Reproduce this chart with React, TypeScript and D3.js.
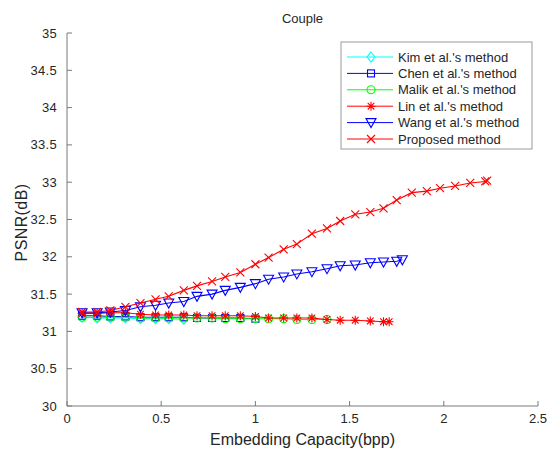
import React from "react";
import * as d3 from "d3";

// x positions (bpp) shared by most series
const xSteps = [0.08, 0.16, 0.23, 0.31, 0.39, 0.47, 0.54, 0.62, 0.69, 0.77, 0.84, 0.92, 1.0, 1.07, 1.15, 1.22, 1.3, 1.38, 1.45, 1.53, 1.61, 1.68, 1.75, 1.83, 1.91, 1.98, 2.06, 2.14];

const kimX = xSteps.slice(0, 8);
const kimY = [31.19, 31.18, 31.18, 31.18, 31.17, 31.17, 31.17, 31.16];

const chenX = xSteps.slice(0, 13);
const chenY = [31.21, 31.21, 31.2, 31.2, 31.19, 31.19, 31.19, 31.19, 31.18, 31.18, 31.18, 31.18, 31.17];

const malikX = xSteps.slice(0, 18);
const malikY = [31.19, 31.19, 31.19, 31.19, 31.18, 31.18, 31.18, 31.18, 31.18, 31.18, 31.17, 31.17, 31.17, 31.17, 31.17, 31.16, 31.16, 31.16];

const linX = [...xSteps.slice(0, 22), 1.71];
const linY = [31.24, 31.24, 31.25, 31.25, 31.23, 31.22, 31.22, 31.22, 31.21, 31.21, 31.21, 31.21, 31.2, 31.18, 31.18, 31.18, 31.18, 31.16, 31.15, 31.15, 31.14, 31.13, 31.13];

const wangX = [...xSteps.slice(0, 23), 1.78];
const wangY = [31.25, 31.25, 31.26, 31.28, 31.33, 31.35, 31.38, 31.4, 31.47, 31.5, 31.55, 31.59, 31.64, 31.7, 31.73, 31.77, 31.8, 31.84, 31.88, 31.89, 31.92, 31.93, 31.94, 31.96];

const propX = [...xSteps, 2.22, 2.23];
const propY = [31.26, 31.26, 31.28, 31.33, 31.38, 31.43, 31.47, 31.55, 31.61, 31.67, 31.73, 31.79, 31.9, 31.99, 32.1, 32.17, 32.31, 32.38, 32.48, 32.57, 32.6, 32.65, 32.76, 32.86, 32.88, 32.92, 32.95, 32.99, 33.01, 33.02];

const xTicks = [0, 0.5, 1, 1.5, 2, 2.5];
const yTicks = [30, 30.5, 31, 31.5, 32, 32.5, 33, 33.5, 34, 34.5, 35];

const series = [
  { name: "Kim et al.'s method", xs: kimX, ys: kimY, color: "#00ffff", marker: "diamond" },
  { name: "Chen et al.'s method", xs: chenX, ys: chenY, color: "#0000ff", marker: "square" },
  { name: "Malik et al.'s method", xs: malikX, ys: malikY, color: "#00ff00", marker: "circle" },
  { name: "Lin et al.'s method", xs: linX, ys: linY, color: "#ff0000", marker: "star" },
  { name: "Wang et al.'s method", xs: wangX, ys: wangY, color: "#0000ff", marker: "tri" },
  { name: "Proposed method", xs: propX, ys: propY, color: "#ff0000", marker: "x" },
];

const W = 558, H = 452;
const left = 67, right = 538, top = 33, bottom = 406;
const font = "'Liberation Sans', Arial, sans-serif";

const Marker = ({ type, x, y, color }) => {
  const p = { fill: "none", stroke: color, strokeWidth: 1.1 };
  switch (type) {
    case "diamond":
      return <path d={`M${x},${y - 5}L${x + 4},${y}L${x},${y + 5}L${x - 4},${y}Z`} {...p} />;
    case "square":
      return <rect x={x - 3.5} y={y - 3.5} width={7} height={7} {...p} />;
    case "circle":
      return <circle cx={x} cy={y} r={4} {...p} />;
    case "star":
      return <path d={`M${x - 4.5},${y}H${x + 4.5}M${x},${y - 4.5}V${y + 4.5}M${x - 3.3},${y - 3.3}L${x + 3.3},${y + 3.3}M${x - 3.3},${y + 3.3}L${x + 3.3},${y - 3.3}`} {...p} />;
    case "tri":
      return <path d={`M${x - 5},${y - 4}H${x + 5}L${x},${y + 5}Z`} {...p} />;
    default:
      return <path d={`M${x - 4},${y - 4}L${x + 4},${y + 4}M${x - 4},${y + 4}L${x + 4},${y - 4}`} {...p} />;
  }
};

export default function App() {
  const x = d3.scaleLinear().domain([0, 2.5]).range([left, right]);
  const y = d3.scaleLinear().domain([30, 35]).range([bottom, top]);
  const line = d3.line<number[]>().x(d => x(d[0])).y(d => y(d[1]));

  const axisColor = "#7a7a7a";
  const textColor = "#262626";

  const legX = 341, legY = 42, legW = 191, legH = 107, rowH = 16.4;

  return (
    <svg width={W} height={H} style={{ position: "absolute", left: 0, top: 0, background: "#fff" }} fontFamily={font}>
      <rect width={W} height={H} fill="#fff" />
      <text x={(left + right) / 2} y={23} textAnchor="middle" fontSize={13} fill={textColor}>Couple</text>

      {/* axes */}
      <line x1={left} x2={left} y1={top} y2={bottom} stroke={axisColor} />
      <line x1={left} x2={right} y1={bottom} y2={bottom} stroke={axisColor} />
      {yTicks.map(t => (
        <g key={"y" + t}>
          <line x1={left} x2={left + 5} y1={y(t)} y2={y(t)} stroke={axisColor} />
          <text x={left - 10} y={y(t)} dy="0.35em" textAnchor="end" fontSize={13} letterSpacing={0.3} fill={textColor}>{t}</text>
        </g>
      ))}
      {xTicks.map(t => (
        <g key={"x" + t}>
          <line x1={x(t)} x2={x(t)} y1={bottom} y2={bottom - 5} stroke={axisColor} />
          <text x={x(t)} y={bottom + 17} textAnchor="middle" fontSize={13} fill={textColor}>{t}</text>
        </g>
      ))}
      <text x={(left + right) / 2} y={445} textAnchor="middle" fontSize={16} fill={textColor}>Embedding Capacity(bpp)</text>
      <text transform={`translate(27,${(top + bottom) / 2 + 3}) rotate(-90)`} textAnchor="middle" fontSize={16} letterSpacing={0.4} fill={textColor}>PSNR(dB)</text>

      {/* series */}
      {series.map(s => {
        const pts = s.xs.map((v, i) => [v, s.ys[i]]);
        return (
          <g key={s.name}>
            <path d={line(pts) || ""} fill="none" stroke={s.color} strokeWidth={1.1} />
            {pts.map((d, i) => <Marker key={i} type={s.marker} x={x(d[0])} y={y(d[1])} color={s.color} />)}
          </g>
        );
      })}

      {/* legend */}
      <rect x={legX} y={legY} width={legW} height={legH} fill="#fff" stroke="#9a9a9a" />
      {series.map((s, i) => {
        const cy = legY + 15 + i * rowH;
        return (
          <g key={"leg" + i}>
            <line x1={legX + 6} x2={legX + 52} y1={cy} y2={cy} stroke={s.color} />
            <Marker type={s.marker} x={legX + 30} y={cy} color={s.color} />
            <text x={legX + 57} y={cy} dy="0.35em" fontSize={13} fill={textColor}>{s.name}</text>
          </g>
        );
      })}
    </svg>
  );
}
